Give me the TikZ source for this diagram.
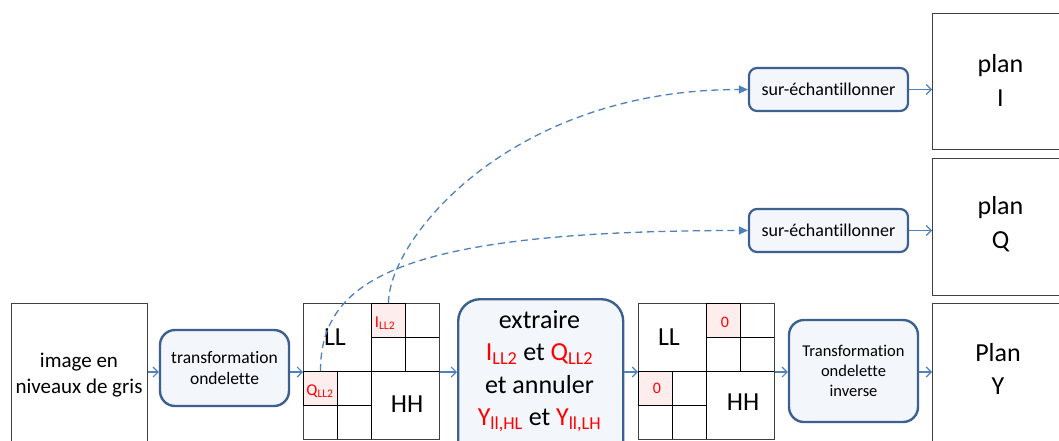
\documentclass[tikz,border=0pt]{standalone}
\usepackage{fontspec}
\setmainfont{Carlito}[RawFeature=-liga]
\usetikzlibrary{arrows.meta}
\definecolor{bxline}{HTML}{3C6190}
\definecolor{bxfill}{HTML}{F3F6FA}
\definecolor{arblue}{HTML}{4F81BD}
\definecolor{pinkc}{HTML}{FDEDEC}
\definecolor{sqline}{HTML}{404040}
\newcommand{\lsub}[1]{\textsubscript{#1}}
\tikzset{
  sqbox/.style={draw=sqline, line width=1pt, fill=white, inner sep=0pt},
  rbox/.style={draw=bxline, line width=2.4pt, fill=bxfill, inner sep=0pt, align=center},
  arr/.style={draw=arblue, line width=1.1pt, -{Straight Barb[length=5pt,width=10pt,line width=1.1pt]}},
  darr/.style={draw=arblue, line width=1.3pt, dash pattern=on 7pt off 4.5pt, -{Triangle[length=9pt,width=8pt]}},
  gridl/.style={draw=black, line width=1pt},
  cell/.style={draw=black, line width=1pt, fill=pinkc, minimum size=34pt, inner sep=0pt, anchor=north west},
  redt/.style={text=red},
}
\begin{document}
\begin{tikzpicture}[x=1pt,y=-1pt]
\clip (0,0) rectangle (1059,440);
\fill[white] (0,0) rectangle (1059,440);
\coordinate (row) at (0,372);

% input image
\node[sqbox, minimum width=136pt, minimum height=144pt, anchor=north west] (img) at (11,303) {};
\node[align=center, font=\fontsize{21}{26}\selectfont] (imgt) at (79,375) {image en\\niveaux de gris};

% wavelet transform
\node[rbox, rounded corners=15pt, minimum width=129pt, minimum height=76pt, font=\fontsize{17.5}{21.5}\selectfont] (tr) at (224.5,368) {transformation\\ondelette};

% grid 1
\node[sqbox, minimum size=136pt, anchor=north west] (g1) at (303,303) {};
\draw[gridl] (371,303) -- (371,439) (303,371) -- (439,371);
\draw[gridl] (405,303) -- (405,371) (371,337) -- (439,337);
\draw[gridl] (337,371) -- (337,439) (303,405) -- (371,405);
\node[cell] (icell) at (371,303) {};
\node[cell] (qcell) at (303,371) {};
\node[font=\fontsize{26}{30}\selectfont] (ll1) at (335,337) {LL};
\node[font=\fontsize{26}{30}\selectfont] (hh1) at (407,404) {HH};
\node[redt, font=\fontsize{16.5}{18}\selectfont, inner sep=0pt] (ilab) at (385,323) {I\lsub{LL2}};
\node[redt, font=\fontsize{16.5}{18}\selectfont, inner sep=0pt] (qlab) at (320,391) {Q\lsub{LL2}};

% extraire box
\node[rbox, rounded corners=22pt, minimum width=165pt, minimum height=170pt, anchor=north west] (ext) at (457,298) {};
\node[align=center, font=\fontsize{26}{32.5}\selectfont] (extt) at (539.5,371) {extraire\\
{\color{red}I\lsub{LL2}} et {\color{red}Q\lsub{LL2}}\\
et annuler\\
{\color{red}Y\lsub{ll,HL}} et {\color{red}Y\lsub{ll,LH}}};

% grid 2
\node[sqbox, minimum size=136pt, anchor=north west] (g2) at (638,303) {};
\draw[gridl] (706,303) -- (706,439) (638,371) -- (774,371);
\draw[gridl] (740,303) -- (740,371) (706,337) -- (774,337);
\draw[gridl] (672,371) -- (672,439) (638,405) -- (706,405);
\node[cell] (zcell1) at (706,303) {};
\node[cell] (zcell2) at (638,371) {};
\node[font=\fontsize{26}{30}\selectfont] (ll2) at (669,337) {LL};
\node[font=\fontsize{26}{30}\selectfont] (hh2) at (743,402) {HH};
\node[redt, font=\fontsize{16}{18}\selectfont] (z1) at (725,322) {0};
\node[redt, font=\fontsize{16}{18}\selectfont] (z2) at (657,388) {0};

% inverse transform
\node[rbox, rounded corners=15pt, minimum width=129pt, minimum height=102pt, font=\fontsize{16.5}{20}\selectfont] (itr) at (853.5,371) {Transformation\\ondelette\\inverse};

% output planes
\node[sqbox, minimum width=137pt, minimum height=136pt, anchor=north west] (pI) at (932,13) {};
\node[align=center, font=\fontsize{26}{34}\selectfont] (pIt) at (1000.5,80) {plan\\I};
\node[sqbox, minimum width=137pt, minimum height=137pt, anchor=north west] (pQ) at (932,158) {};
\node[align=center, font=\fontsize{26}{34}\selectfont] (pQt) at (1000.5,224) {plan\\Q};
\node[sqbox, minimum width=137pt, minimum height=144pt, anchor=north west] (pY) at (932,303) {};
\node[align=center, font=\fontsize{26}{33}\selectfont] (pYt) at (998,368.5) {Plan\\Y};

% upsampling boxes
\node[rbox, line width=2.2pt, rounded corners=8pt, minimum width=159pt, minimum height=43pt, font=\fontsize{18}{20}\selectfont] (s1) at (828.5,89.5) {sur-échantillonner};
\node[rbox, line width=2.2pt, rounded corners=8pt, minimum width=159pt, minimum height=43pt, font=\fontsize{18}{20}\selectfont] (s2) at (828.5,230.5) {sur-échantillonner};

% main arrows
\draw[arr] (img.east |- row) -- (tr.west |- row);
\draw[arr] (tr.east |- row) -- (g1.west |- row);
\draw[arr] (g1.east |- row) -- (ext.west |- row);
\draw[arr] (ext.east |- row) -- (g2.west |- row);
\draw[arr] (g2.east |- row) -- (itr.west |- row);
\draw[arr] (itr.east |- row) -- (pY.west |- row);
\draw[arr] (s1.east) -- (pI.west |- s1.east);
\draw[arr] (s2.east) -- (pQ.west |- s2.east);

% dashed curves
\draw[darr] (qcell.north) .. controls +(0,-91) and +(-349,0) .. (s2.west);
\draw[darr] (icell.north) .. controls +(0,-63) and +(-239,0) .. (s1.west);
\end{tikzpicture}
\end{document}
